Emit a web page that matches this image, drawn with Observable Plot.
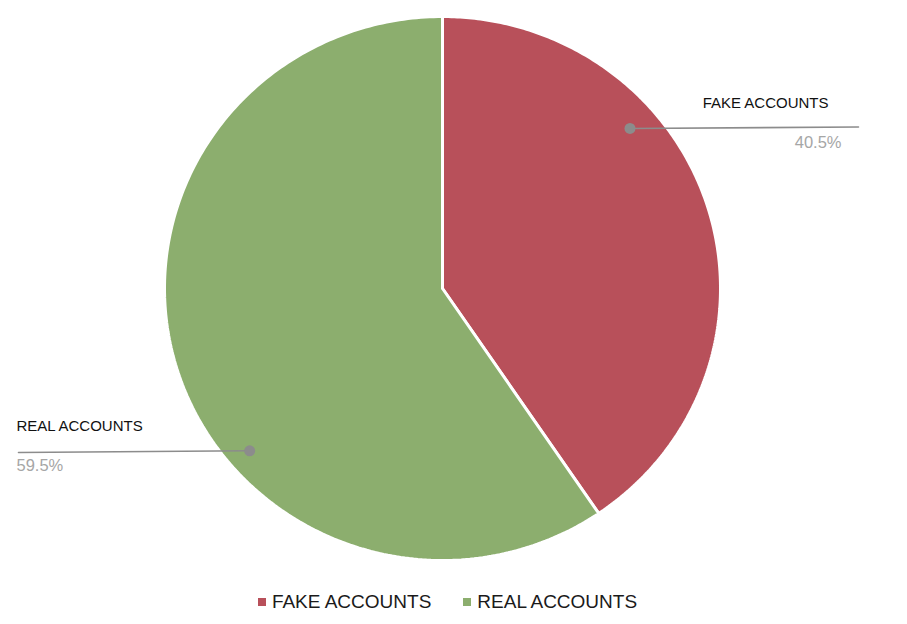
<!DOCTYPE html>
<html>
<head>
<meta charset="utf-8">
<script src="https://cdn.jsdelivr.net/npm/d3@7"></script>
<script src="https://cdn.jsdelivr.net/npm/@observablehq/plot@0.6"></script>
<style>
  html, body { margin: 0; padding: 0; background: #fff; }
  body { width: 907px; height: 624px; overflow: hidden; font-family: "Liberation Sans", Arial, sans-serif; }
  #legend { display: flex; justify-content: center; align-items: center; height: 44px; font-size: 19px; color: #1a1a1a; padding-right: 12px; margin-top: 4px; }
  .item { display: flex; align-items: center; margin: 0 16px; }
  .sw { width: 8px; height: 8px; margin-right: 6px; }
</style>
</head>
<body>
<div id="chart"></div>
<div id="legend"></div>
<script>
const categories = ["FAKE ACCOUNTS", "REAL ACCOUNTS"];
const shares = [40.5, 59.5];
const percentLabels = ["40.5%", "59.5%"];
const colors = ["#B8505A", "#8CAE6E"];

const W = 907, H = 576;
const RX = 278, RY = 272, CX = 442, CY = 288; // layout
const xDomain = [-CX / RX, (W - CX) / RX];
const yDomain = [-(H - CY) / RY, CY / RY];
const px = v => (v - CX) / RX;   // layout helpers for label placement
const py = v => (CY - v) / RY;

const total = d3.sum(shares);
let acc = 0;
const slices = categories.map((c, i) => {
  const a0 = acc / total * 2 * Math.PI;
  acc += shares[i];
  const a1 = acc / total * 2 * Math.PI;
  return {category: c, a0, a1, pct: percentLabels[i], side: i === 0 ? 1 : -1};
});

const polyPts = [];
for (const s of slices) {
  polyPts.push({k: s.category, x: 0, y: 0});
  const n = 240;
  for (let j = 0; j <= n; j++) {
    const a = s.a0 + (s.a1 - s.a0) * j / n;
    polyPts.push({k: s.category, x: Math.sin(a), y: Math.cos(a)});
  }
  polyPts.push({k: s.category, x: 0, y: 0});
}

const anchorOffsetDeg = [-24, -23.6];
const anchorRadius = [0.895, 0.915];
const anchors = slices.map((s, i) => {
  const a = (s.a0 + s.a1) / 2 + anchorOffsetDeg[i] * Math.PI / 180;
  return {...s, x: anchorRadius[i] * Math.sin(a), y: anchorRadius[i] * Math.cos(a)};
});
const leaderEnd = {
  "FAKE ACCOUNTS": {x: px(858), y: py(126.5)},
  "REAL ACCOUNTS": {x: px(18), y: py(452)}
};
const leaders = [];
for (const a of anchors) {
  leaders.push({k: a.category, x: a.x, y: a.y});
  leaders.push({k: a.category, x: leaderEnd[a.category].x, y: leaderEnd[a.category].y});
}
const nameLabels = anchors.map(a => ({
  text: a.category,
  x: a.side > 0 ? px(828) : px(16),
  y: a.side > 0 ? py(103) : py(426),
  anchor: a.side > 0 ? "end" : "start"
}));
const pctLabels = anchors.map(a => ({
  text: a.pct,
  x: a.side > 0 ? px(841) : px(16),
  y: a.side > 0 ? py(142) : py(465),
  anchor: a.side > 0 ? "end" : "start"
}));

const font = "Liberation Sans, Arial, sans-serif";
const chart = Plot.plot({
  width: W, height: H,
  margin: 0,
  x: {domain: xDomain, range: [0, W], axis: null},
  y: {domain: yDomain, range: [H, 0], axis: null},
  color: {domain: categories, range: colors},
  marks: [
    Plot.line(polyPts, {x: "x", y: "y", z: "k", fill: "k", stroke: "white", strokeWidth: 3, strokeLinejoin: "miter", curve: "linear"}),
    Plot.line(leaders, {x: "x", y: "y", z: "k", stroke: "#8C8C8C", strokeWidth: 1.6}),
    Plot.dot(anchors, {x: "x", y: "y", r: 5.5, fill: "#8C8C8C", stroke: "none"}),
    Plot.text(nameLabels, {x: "x", y: "y", text: "text", textAnchor: d => d.anchor, fontSize: 15, fill: "#111", fontFamily: font}),
    Plot.text(pctLabels, {x: "x", y: "y", text: "text", textAnchor: d => d.anchor, fontSize: 16.5, fill: "#A6A6A6", fontFamily: font})
  ]
});
// textAnchor must be constant in Plot; apply per-label anchors after render
chart.querySelectorAll("g[aria-label='text']").forEach((g, gi) => {
  const data = gi === 0 ? nameLabels : pctLabels;
  g.removeAttribute("text-anchor");
  g.querySelectorAll("text").forEach((t, i) => t.setAttribute("text-anchor", data[i].anchor));
});
document.getElementById("chart").appendChild(chart);

const legend = document.getElementById("legend");
categories.forEach((c, i) => {
  const it = document.createElement("div");
  it.className = "item";
  const sw = document.createElement("span");
  sw.className = "sw";
  sw.style.background = colors[i];
  const t = document.createElement("span");
  t.textContent = c;
  it.appendChild(sw); it.appendChild(t);
  legend.appendChild(it);
});
</script>
</body>
</html>
